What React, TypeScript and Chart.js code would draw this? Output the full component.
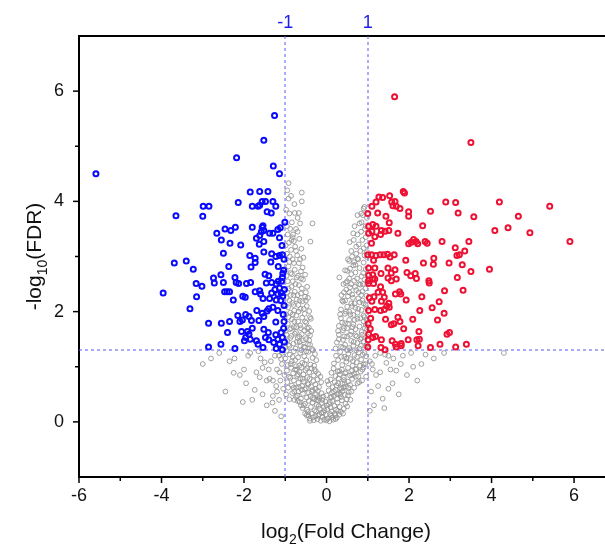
import React, { useEffect, useRef } from "react";
import { Chart, registerables } from "chart.js";

Chart.register(...registerables);

const FONT = "'Liberation Sans', Arial, Helvetica, sans-serif";

// axis ranges and ticks
const xRange = [-6, 6.75];
const yRange = [-1, 7];
const xMajorTicks = [-6, -4, -2, 0, 2, 4, 6];
const xMinorTicks = [-5, -3, -1, 1, 3, 5];
const yMajorTicks = [0, 2, 4, 6];
const yMinorTicks = [1, 3, 5];
const topTicks = [-1, 1];
const foldCutoffs = [-1, 1];
const fdrCutoff = 1.3;

// significantly down-regulated genes: [log2FC, -log10 FDR]
const downGenes: [number, number][] = [
  [-5.59, 4.5], [-1.26, 5.56], [-1.52, 5.11], [-2.18, 4.79], [-1.29, 4.64], [-1.14, 4.5],
  [-1.85, 4.17], [-1.62, 4.18], [-1.42, 4.18], [-2.14, 3.98], [-1.8, 3.91], [-1.66, 3.91], [-1.62, 3.93],
  [-1.56, 4.0], [-1.48, 4.0], [-1.3, 4.0], [-1.23, 3.91], [-1.44, 3.81], [-1.34, 3.79],
  [-2.99, 3.91], [-2.85, 3.91], [-3.0, 3.73], [-3.65, 3.74], [-1.01, 3.62], [-2.66, 3.42], [-2.46, 3.5],
  [-2.32, 3.47], [-2.21, 3.53], [-2.55, 3.3], [-2.34, 3.24], [-2.08, 3.21], [-1.8, 3.53], [-1.56, 3.53],
  [-1.54, 3.56], [-1.58, 3.45], [-1.52, 3.47], [-1.62, 3.38], [-1.7, 3.33], [-1.38, 3.42], [-1.3, 3.42],
  [-1.18, 3.49], [-1.12, 3.52], [-1.14, 3.34], [-1.52, 3.27], [-1.63, 3.22],
  [-2.5, 3.06], [-1.86, 3.02], [-1.73, 2.97], [-1.52, 3.08], [-1.83, 2.81], [-1.73, 2.89], [-1.33, 3.05],
  [-1.23, 3.0], [-1.14, 3.02], [-1.07, 3.03], [-1.35, 2.9], [-1.17, 2.82],
  [-3.69, 2.88], [-3.4, 2.92], [-3.23, 2.77], [-2.37, 2.82], [-2.74, 2.61], [-2.72, 2.52], [-2.56, 2.67],
  [-2.5, 2.53], [-3.16, 2.51], [-3.02, 2.46], [-2.22, 2.62], [-2.19, 2.53], [-2.13, 2.51], [-1.94, 2.51],
  [-1.84, 2.53], [-1.49, 2.68], [-1.4, 2.65], [-1.73, 2.36], [-1.62, 2.38], [-1.54, 2.24], [-1.6, 2.32],
  [-1.46, 2.52], [-1.33, 2.53], [-1.22, 2.5], [-1.17, 2.55], [-1.09, 2.55], [-1.06, 2.69], [-1.07, 2.62],
  [-1.33, 2.34], [-1.25, 2.4], [-1.18, 2.32], [-1.1, 2.34], [-1.14, 2.43], [-1.38, 2.24], [-1.22, 2.21],
  [-1.11, 2.2], [-1.06, 2.28], [-2.47, 2.36], [-2.41, 2.36], [-2.35, 2.36], [-2.03, 2.28], [-1.97, 2.26],
  [-2.26, 2.21], [-3.15, 2.27], [-3.96, 2.34], [-3.31, 2.05],
  [-1.69, 2.02], [-1.56, 1.97], [-1.44, 2.01], [-1.4, 2.05], [-1.3, 2.08], [-1.18, 2.02], [-1.03, 2.11],
  [-2.15, 1.93], [-2.1, 1.82], [-2.04, 1.85], [-1.96, 1.95], [-1.88, 1.91], [-1.82, 1.84], [-2.35, 1.82],
  [-2.55, 1.79], [-2.86, 1.79], [-1.64, 1.84], [-1.52, 1.91], [-1.23, 1.81], [-1.03, 1.82], [-1.8, 1.7],
  [-2.4, 1.62], [-2.06, 1.64], [-1.92, 1.64], [-1.88, 1.59], [-1.96, 1.53], [-1.85, 1.5], [-1.52, 1.68],
  [-1.41, 1.62], [-1.48, 1.53], [-1.4, 1.49], [-1.23, 1.58], [-1.18, 1.5], [-1.1, 1.62], [-1.07, 1.53],
  [-1.14, 1.41], [-1.99, 1.47], [-1.7, 1.47], [-1.66, 1.41], [-1.54, 1.35], [-2.56, 1.41], [-2.86, 1.36],
  [-2.22, 1.33], [-1.22, 1.33], [-1.07, 1.31], [-1.28, 1.44],
  [-1.03, 2.95], [-1.04, 2.75], [-1.02, 2.4], [-1.05, 1.95], [-1.04, 1.7], [-1.02, 1.45], [-1.08, 3.2],
];

// significantly up-regulated genes
const upGenes: [number, number][] = [
  [1.65, 5.9], [3.5, 5.07], [1.86, 4.18], [1.89, 4.15], [1.27, 4.08], [1.36, 4.07], [1.53, 4.1],
  [1.1, 3.91], [1.2, 3.99], [1.58, 3.99], [1.66, 4.0], [1.61, 3.92], [1.69, 3.91], [1.78, 3.87],
  [2.89, 3.99], [3.13, 3.98], [4.19, 3.99], [5.41, 3.91],
  [1.0, 3.78], [1.24, 3.79], [1.44, 3.73], [1.99, 3.81], [1.99, 3.73], [2.52, 3.82], [3.19, 3.79],
  [3.57, 3.72], [4.65, 3.73], [1.52, 3.61], [1.02, 3.55], [1.12, 3.58], [1.2, 3.55], [2.33, 3.56],
  [4.4, 3.52], [4.08, 3.47], [4.93, 3.43],
  [1.02, 3.42], [1.1, 3.46], [1.33, 3.47], [1.42, 3.46], [1.51, 3.47], [1.31, 3.4], [1.17, 3.36],
  [1.73, 3.42], [1.09, 3.24], [1.99, 3.23], [2.05, 3.26], [2.11, 3.31], [2.17, 3.27], [2.21, 3.23],
  [2.39, 3.27], [2.44, 3.24], [2.8, 3.27], [3.12, 3.16], [3.16, 3.02], [3.22, 3.03], [3.35, 3.1],
  [3.45, 3.27], [5.9, 3.27],
  [1.0, 3.03], [1.09, 3.03], [1.2, 3.02], [1.3, 3.03], [1.39, 3.03], [1.48, 3.04], [1.54, 2.99],
  [1.64, 3.03], [1.14, 2.93], [1.92, 2.93], [2.6, 2.97], [2.59, 2.86], [2.35, 2.88], [2.97, 2.88],
  [3.29, 2.85], [3.5, 2.73], [3.95, 2.77],
  [1.02, 2.79], [1.17, 2.79], [1.49, 2.79], [1.66, 2.76], [1.57, 2.7], [1.32, 2.69], [1.02, 2.66],
  [1.12, 2.67], [1.02, 2.56], [1.12, 2.59], [1.02, 2.51], [1.14, 2.51], [1.17, 2.59], [1.49, 2.61],
  [1.57, 2.56], [1.69, 2.59], [1.95, 2.71], [2.04, 2.65], [2.15, 2.69], [2.18, 2.6], [2.48, 2.56],
  [2.49, 2.52], [3.17, 2.62], [1.31, 2.45],
  [1.25, 2.35], [1.36, 2.35], [1.4, 2.26], [1.33, 2.19], [1.04, 2.25], [1.1, 2.19], [1.15, 2.27],
  [1.67, 2.32], [1.77, 2.36], [1.8, 2.32], [1.93, 2.21], [2.31, 2.27], [2.86, 2.38], [3.31, 2.39],
  [2.73, 2.18], [1.51, 2.15], [1.46, 2.1], [1.52, 2.08], [1.4, 2.04], [1.31, 2.02], [1.17, 2.04],
  [1.02, 2.02], [2.26, 2.02], [2.56, 2.07], [2.85, 1.97],
  [1.07, 1.88], [1.43, 1.86], [1.57, 1.76], [1.63, 1.78], [1.73, 1.9], [1.78, 1.82], [1.87, 1.69],
  [2.09, 1.86], [2.69, 1.85], [2.24, 1.64], [2.92, 1.59], [2.98, 1.62],
  [1.01, 1.78], [1.06, 1.69], [1.02, 1.59], [1.12, 1.53], [1.19, 1.55], [1.01, 1.49], [1.33, 1.49],
  [1.59, 1.47], [1.67, 1.41], [1.81, 1.42], [1.98, 1.49], [2.19, 1.49], [2.25, 1.5],
  [1.0, 1.36], [1.32, 1.35], [1.42, 1.31], [1.69, 1.36], [1.81, 1.38], [2.22, 1.38], [2.52, 1.35],
  [2.75, 1.41], [3.13, 1.36], [3.39, 1.41],
];

// non-significant genes
const otherGenes: [number, number][] = [
  [-0.48, 0.12], [-0.41, 0.06], [-0.36, 0.15], [-0.31, 0.03], [-0.27, 0.1], [-0.22, 0.05], [-0.18, 0.14],
  [-0.14, 0.02], [-0.1, 0.09], [-0.06, 0.04], [-0.02, 0.13], [0.03, 0.06], [0.07, 0.01], [0.11, 0.11],
  [0.16, 0.04], [0.2, 0.15], [0.25, 0.08], [0.31, 0.13], [-0.45, 0.18], [-0.25, 0.19], [-0.08, 0.17],
  [0.13, 0.19], [0.35, 0.18],
  [-0.58, 0.25], [-0.52, 0.33], [-0.47, 0.22], [-0.43, 0.38], [-0.38, 0.27], [-0.34, 0.35], [-0.29, 0.21],
  [-0.24, 0.31], [-0.2, 0.39], [-0.16, 0.24], [-0.11, 0.34], [-0.07, 0.27], [-0.03, 0.37], [0.02, 0.23],
  [0.06, 0.32], [0.1, 0.26], [0.14, 0.38], [0.19, 0.29], [0.23, 0.22], [0.27, 0.35], [0.32, 0.27],
  [0.37, 0.39], [0.42, 0.24], [-0.65, 0.36], [0.46, 0.33],
  [-0.74, 0.45], [-0.68, 0.55], [-0.62, 0.42], [-0.57, 0.51], [-0.53, 0.59], [-0.48, 0.44], [-0.43, 0.53],
  [-0.39, 0.47], [-0.34, 0.58], [-0.3, 0.41], [-0.25, 0.5], [-0.21, 0.56], [-0.17, 0.43], [-0.12, 0.52],
  [0.0, 0.48], [0.05, 0.57], [0.09, 0.44], [0.13, 0.53], [0.18, 0.47], [0.22, 0.58], [0.26, 0.42],
  [0.3, 0.51], [0.35, 0.45], [0.39, 0.56], [0.44, 0.49], [0.49, 0.41], [0.54, 0.54], [-0.08, 0.46],
  [-0.84, 0.66], [-0.79, 0.75], [-0.73, 0.62], [-0.68, 0.71], [-0.64, 0.79], [-0.59, 0.65], [-0.55, 0.73],
  [-0.5, 0.61], [-0.46, 0.7], [-0.41, 0.78], [-0.37, 0.64], [-0.32, 0.74], [-0.27, 0.68], [-0.22, 0.77],
  [-0.18, 0.63], [-0.13, 0.72], [0.05, 0.68], [0.1, 0.77], [0.15, 0.63], [0.2, 0.72], [0.24, 0.66],
  [0.29, 0.79], [0.33, 0.61], [0.38, 0.7], [0.42, 0.76], [0.47, 0.64], [0.52, 0.73], [0.57, 0.67],
  [0.62, 0.78], [0.67, 0.62], [-0.95, 0.72], [0.75, 0.7],
  [-1.02, 0.85], [-0.96, 0.93], [-0.91, 0.82], [-0.86, 0.98], [-0.81, 0.88], [-0.76, 0.95], [-0.71, 0.83],
  [-0.66, 0.91], [-0.61, 0.99], [-0.56, 0.86], [-0.51, 0.94], [-0.46, 0.81], [-0.42, 0.9], [-0.37, 0.97],
  [-0.31, 0.84], [-0.26, 0.92], [-0.2, 0.87], [0.12, 0.89], [0.17, 0.97], [0.22, 0.83], [0.27, 0.92],
  [0.32, 0.86], [0.37, 0.95], [0.42, 0.81], [0.47, 0.9], [0.52, 0.98], [0.57, 0.84], [0.62, 0.93],
  [0.67, 0.87], [0.72, 0.96], [0.77, 0.82], [0.83, 0.91], [0.9, 0.99],
  [-1.08, 1.05], [-1.0, 1.15], [-0.94, 1.03], [-0.89, 1.22], [-0.84, 1.1], [-0.79, 1.28], [-0.74, 1.01],
  [-0.69, 1.17], [-0.64, 1.25], [-0.59, 1.07], [-0.54, 1.19], [-0.49, 1.12], [-0.44, 1.27], [-0.39, 1.04],
  [-0.34, 1.16], [-0.28, 1.23], [0.18, 1.06], [0.23, 1.2], [0.28, 1.12], [0.33, 1.27], [0.38, 1.03],
  [0.43, 1.18], [0.48, 1.09], [0.53, 1.24], [0.58, 1.14], [0.63, 1.02], [0.68, 1.21], [0.73, 1.08],
  [0.78, 1.26], [0.84, 1.13], [0.9, 1.04], [0.96, 1.19], [1.05, 1.1], [-1.15, 1.2], [-0.97, 1.29],
  [-1.0, 1.35], [-0.95, 1.48], [-0.9, 1.38], [-0.85, 1.56], [-0.8, 1.42], [-0.75, 1.33], [-0.7, 1.52],
  [-0.65, 1.45], [-0.6, 1.59], [-0.55, 1.36], [-0.5, 1.5], [-0.45, 1.41], [-0.4, 1.57], [-0.35, 1.32],
  [0.25, 1.44], [0.3, 1.58], [0.35, 1.36], [0.4, 1.49], [0.45, 1.4], [0.5, 1.55], [0.55, 1.34],
  [0.6, 1.47], [0.65, 1.38], [0.7, 1.57], [0.75, 1.43], [0.8, 1.33], [0.85, 1.52], [0.9, 1.46],
  [0.95, 1.37], [0.99, 1.55],
  [-0.99, 1.65], [-0.94, 1.78], [-0.89, 1.68], [-0.84, 1.86], [-0.79, 1.72], [-0.74, 1.63], [-0.69, 1.82],
  [-0.64, 1.75], [-0.59, 1.89], [-0.54, 1.66], [-0.49, 1.8], [-0.43, 1.71], [-0.38, 1.87], [0.3, 1.74],
  [0.35, 1.88], [0.4, 1.66], [0.45, 1.79], [0.5, 1.7], [0.55, 1.85], [0.6, 1.64], [0.65, 1.77],
  [0.7, 1.68], [0.75, 1.87], [0.8, 1.73], [0.85, 1.63], [0.9, 1.82], [0.95, 1.76], [0.98, 1.67],
  [-0.98, 1.95], [-0.93, 2.08], [-0.88, 1.98], [-0.83, 2.16], [-0.78, 2.02], [-0.73, 1.93], [-0.68, 2.12],
  [-0.63, 2.05], [-0.58, 2.19], [-0.53, 1.96], [-0.48, 2.1], [-0.42, 2.01], [0.35, 2.04], [0.4, 2.18],
  [0.45, 1.96], [0.5, 2.09], [0.55, 2.0], [0.6, 2.15], [0.65, 1.94], [0.7, 2.07], [0.75, 1.98],
  [0.8, 2.17], [0.85, 2.03], [0.9, 1.93], [0.95, 2.12], [0.98, 2.06],
  [-0.97, 2.25], [-0.92, 2.42], [-0.87, 2.3], [-0.82, 2.55], [-0.77, 2.36], [-0.72, 2.22], [-0.67, 2.48],
  [-0.62, 2.33], [-0.57, 2.58], [-0.52, 2.27], [-0.47, 2.45], [0.42, 2.35], [0.47, 2.52], [0.52, 2.28],
  [0.57, 2.44], [0.62, 2.31], [0.67, 2.56], [0.72, 2.39], [0.77, 2.24], [0.82, 2.49], [0.87, 2.37],
  [0.92, 2.58], [0.97, 2.29],
  [-0.97, 2.65], [-0.92, 2.82], [-0.87, 2.7], [-0.82, 2.95], [-0.77, 2.76], [-0.72, 2.62], [-0.67, 2.88],
  [-0.62, 2.73], [-0.56, 2.98], [-0.52, 2.67], [0.5, 2.74], [0.55, 2.92], [0.6, 2.68], [0.65, 2.84],
  [0.7, 2.71], [0.75, 2.96], [0.8, 2.79], [0.85, 2.64], [0.9, 2.89], [0.95, 2.77], [0.98, 2.99],
  [-0.96, 3.05], [-0.91, 3.25], [-0.86, 3.12], [-0.81, 3.4], [-0.76, 3.18], [-0.71, 3.02], [-0.66, 3.32],
  [-0.61, 3.14], [0.6, 3.1], [0.66, 3.3], [0.72, 3.05], [0.78, 3.22], [0.84, 3.45], [0.9, 3.15],
  [0.95, 3.35], [0.98, 3.08],
  [-0.96, 3.55], [-0.9, 3.78], [-0.84, 3.62], [-0.78, 3.95], [-0.92, 4.05], [-0.92, 4.33], [-0.6, 4.16],
  [-0.7, 3.7], [0.8, 3.6], [0.88, 3.75], [0.95, 3.55], [0.92, 3.9],
  [-0.55, 0.3], [-0.44, 0.12], [-0.33, 0.44], [-0.19, 0.29], [-0.05, 0.21], [0.08, 0.36], [0.21, 0.12],
  [0.34, 0.5], [0.41, 0.62], [-0.6, 0.58], [-0.71, 0.48], [-0.8, 0.62], [-0.88, 0.8], [-0.69, 0.86],
  [-0.47, 0.97], [-0.26, 0.6], [-0.15, 0.82], [0.02, 0.74], [0.18, 0.55], [0.28, 0.7], [0.45, 0.88],
  [0.6, 0.55], [0.71, 0.82], [0.81, 1.02], [0.86, 0.75], [0.64, 1.1], [0.5, 1.3], [0.36, 1.18],
  [0.22, 1.33], [-0.3, 1.02], [-0.52, 1.35], [-0.66, 1.02], [-0.82, 1.18], [-0.93, 1.4], [-0.77, 1.6],
  [-0.61, 1.3], [-0.45, 1.6], [-0.4, 1.9], [0.3, 1.5], [0.42, 1.7], [0.57, 1.58], [0.68, 1.85],
  [0.82, 1.5], [0.93, 1.7], [0.72, 1.3], [0.88, 1.22], [-0.72, 1.45], [-0.86, 1.7], [-0.68, 2.0],
  [-0.5, 2.2], [0.38, 2.2], [0.48, 2.4], [0.62, 2.1], [0.78, 2.35], [0.9, 2.15], [-0.8, 2.3],
  [-0.62, 2.6], [-0.9, 2.9], [0.55, 2.6], [0.7, 2.85], [0.88, 2.5], [-0.74, 3.5], [-0.85, 3.3],
  [0.68, 3.55], [0.75, 3.75], [-0.39, 3.27], [-0.82, 3.35], [-0.34, 3.6], [0.56, 3.26], [0.31, 2.62],
  [-0.77, 3.79], [-0.67, 3.79], [0.84, 3.78], [0.9, 3.87], [-0.6, 4.0],
  [-0.98, 0.5], [-0.93, 0.62], [-0.9, 0.41], [-0.87, 1.05], [-0.83, 0.52], [-0.78, 0.4], [-0.76, 1.12],
  [-0.72, 0.95], [-0.67, 0.63], [-0.63, 1.38], [-0.58, 0.78], [-0.53, 1.05], [-0.49, 1.28], [-0.44, 0.68],
  [-0.4, 1.4], [-0.36, 0.55], [-0.33, 1.3], [-0.29, 0.95], [-0.25, 1.12], [-0.23, 0.4],
  [-0.97, 1.58], [-0.92, 1.9], [-0.88, 1.52], [-0.82, 1.95], [-0.78, 1.82], [-0.73, 1.72], [-0.66, 1.55],
  [-0.62, 1.7], [-0.57, 1.48], [-0.52, 1.82], [-0.47, 1.7], [-0.42, 1.48], [-0.37, 1.65],
  [-0.99, 2.1], [-0.95, 2.35], [-0.9, 2.2], [-0.85, 2.45], [-0.8, 2.12], [-0.75, 2.5], [-0.7, 2.3],
  [-0.65, 2.2], [-0.6, 2.42], [-0.55, 2.05], [-0.5, 2.35], [-0.45, 2.25],
  [-0.99, 2.75], [-0.94, 2.55], [-0.89, 3.0], [-0.84, 2.68], [-0.79, 2.88], [-0.74, 3.1], [-0.69, 2.65],
  [-0.64, 2.95], [-0.58, 2.8], [-0.99, 3.2], [-0.94, 3.4], [-0.88, 3.5], [-0.79, 3.28], [-0.7, 3.45],
  [-0.64, 3.6], [-0.98, 3.85], [-0.86, 4.1], [-0.95, 4.2],
  [0.26, 0.5], [0.31, 0.92], [0.36, 0.6], [0.4, 1.35], [0.44, 0.7], [0.49, 1.15], [0.53, 0.62],
  [0.58, 1.3], [0.62, 0.85], [0.66, 1.45], [0.7, 0.95], [0.74, 1.18], [0.79, 0.72], [0.83, 1.38],
  [0.87, 0.95], [0.92, 1.25], [0.96, 0.82], [0.98, 1.4], [0.94, 1.05], [0.86, 1.58],
  [0.28, 1.65], [0.33, 1.95], [0.38, 1.8], [0.43, 1.55], [0.47, 2.0], [0.52, 1.78], [0.58, 1.95],
  [0.63, 1.72], [0.68, 2.15], [0.73, 1.55], [0.77, 2.05], [0.82, 1.88], [0.87, 2.2], [0.92, 1.9],
  [0.97, 1.85], [0.36, 2.3], [0.41, 2.5], [0.45, 2.2], [0.5, 2.55], [0.55, 2.35], [0.6, 2.5],
  [0.64, 2.25], [0.69, 2.45], [0.74, 2.6], [0.79, 2.5], [0.84, 2.3], [0.89, 2.7], [0.94, 2.42],
  [0.99, 2.55], [0.45, 2.75], [0.52, 2.95], [0.57, 2.78], [0.62, 3.0], [0.67, 2.9], [0.72, 3.18],
  [0.77, 2.95], [0.82, 3.1], [0.87, 3.3], [0.92, 3.02], [0.97, 3.2], [0.65, 3.42], [0.75, 3.4],
  [0.85, 3.62], [0.93, 3.5], [0.98, 3.7],
  [-0.4, 0.02], [-0.33, 0.08], [-0.2, 0.11], [-0.12, 0.16], [0.0, 0.03], [0.09, 0.14], [0.14, 0.08],
  [0.22, 0.05], [0.28, 0.2], [-0.52, 0.15], [-0.62, 0.3], [-0.7, 0.38], [0.4, 0.15], [0.5, 0.28],
  [0.58, 0.4], [0.52, 0.48], [-0.78, 0.55], [-0.1, 0.4], [0.0, 0.3], [0.12, 0.45], [-0.22, 0.45],
  [-2.23, 1.15], [-2.1, 0.85], [-2.03, 0.36], [-1.74, 0.58], [-1.55, 0.98], [-1.31, 0.35], [-2.25, 0.89],
  [-1.9, 1.2], [-1.45, 0.75], [-1.2, 0.55], [-1.35, 1.1], [-2.6, 1.25], [-1.65, 1.28], [-1.25, 0.2],
  [-1.5, 1.08], [-1.38, 0.78], [-1.3, 0.47], [-1.22, 0.65], [-1.14, 0.9], [-1.1, 1.14], [-1.62, 0.81],
  [-2.45, 0.55], [-2.35, 1.1], [-2.0, 0.95], [-1.95, 0.7], [-1.85, 1.25], [-1.8, 0.4], [-1.7, 0.9],
  [-1.6, 1.15], [-1.55, 0.5], [-1.45, 0.3], [-1.4, 0.95], [-1.3, 0.75], [-1.25, 1.2], [-1.2, 0.95],
  [-1.15, 0.4], [-1.12, 0.75], [-1.08, 1.25], [-1.05, 0.6], [-2.8, 1.15], [-3.0, 1.05],
  [1.45, 1.07], [1.6, 0.7], [1.69, 0.93], [1.36, 0.42], [1.2, 0.85], [1.3, 1.25], [1.85, 1.2],
  [2.1, 1.0], [1.15, 0.3], [2.4, 1.22], [4.3, 1.25], [1.5, 1.2], [-1.1, 0.1],
  [1.08, 0.55], [1.12, 0.95], [1.18, 1.2], [1.25, 0.65], [1.3, 0.9], [1.4, 0.25], [1.42, 1.22],
  [1.55, 0.95], [1.62, 1.15], [1.75, 0.5], [1.8, 1.05], [1.95, 0.85], [2.05, 1.25], [2.2, 0.75],
  [2.3, 1.05], [2.6, 1.15], [1.05, 0.2], [1.1, 1.05], [2.85, 1.25], [1.5, 0.6],
];

const toPoints = (arr: [number, number][]) => arr.map(([x, y]) => ({ x, y }));

function drawRich(ctx: CanvasRenderingContext2D, parts: { t: string; sub?: boolean }[], cx: number, baseline: number) {
  const main = `21px ${FONT}`;
  const small = `14px ${FONT}`;
  let total = 0;
  const widths = parts.map((p) => {
    ctx.font = p.sub ? small : main;
    const w = ctx.measureText(p.t).width;
    total += w;
    return w;
  });
  let x = cx - total / 2;
  ctx.textAlign = "left";
  ctx.textBaseline = "alphabetic";
  parts.forEach((p, i) => {
    ctx.font = p.sub ? small : main;
    ctx.fillText(p.t, x, baseline + (p.sub ? 6 : 0));
    x += widths[i];
  });
}

const decorPlugin = {
  id: "decor",
  beforeDatasetsDraw(chart: any) {
    const { ctx, chartArea: a, scales } = chart;
    const xs = scales.x;
    const ys = scales.y;
    ctx.save();
    ctx.strokeStyle = "rgb(90,90,255)";
    ctx.lineWidth = 1;
    ctx.setLineDash([3, 3]);
    foldCutoffs.forEach((v) => {
      const px = Math.round(xs.getPixelForValue(v));
      ctx.beginPath();
      ctx.moveTo(px, a.top);
      ctx.lineTo(px, a.bottom);
      ctx.stroke();
    });
    const py = Math.round(ys.getPixelForValue(fdrCutoff));
    ctx.beginPath();
    ctx.moveTo(a.left, py);
    ctx.lineTo(a.right, py);
    ctx.stroke();
    ctx.restore();
  },
  afterDraw(chart: any) {
    const { ctx, chartArea: a, scales } = chart;
    const xs = scales.x;
    const ys = scales.y;
    ctx.save();
    ctx.strokeStyle = "#000";
    ctx.lineWidth = 1.5;
    const xTick = (v: number, len: number) => {
      const px = xs.getPixelForValue(v);
      ctx.beginPath();
      ctx.moveTo(px, a.bottom);
      ctx.lineTo(px, a.bottom + len);
      ctx.stroke();
    };
    const yTick = (v: number, len: number) => {
      const py = ys.getPixelForValue(v);
      ctx.beginPath();
      ctx.moveTo(a.left, py);
      ctx.lineTo(a.left - len, py);
      ctx.stroke();
    };
    xMajorTicks.forEach((v) => xTick(v, 6));
    xMinorTicks.forEach((v) => xTick(v, 4));
    yMajorTicks.forEach((v) => yTick(v, 6));
    yMinorTicks.forEach((v) => yTick(v, 4));

    ctx.fillStyle = "#111";
    drawRich(
      ctx,
      [{ t: "log" }, { t: "2", sub: true }, { t: "(Fold Change)" }],
      (a.left + a.right) / 2 + 4,
      538
    );
    ctx.save();
    ctx.translate(41, (a.top + a.bottom) / 2);
    ctx.rotate(-Math.PI / 2);
    drawRich(ctx, [{ t: "-log" }, { t: "10", sub: true }, { t: "(FDR)" }], 0, 0);
    ctx.restore();
    ctx.restore();
  },
};

export default function App() {
  const canvasRef = useRef<HTMLCanvasElement | null>(null);

  useEffect(() => {
    const canvas = canvasRef.current;
    if (!canvas) return;
    const hidden = "rgba(0,0,0,0)";
    const chart = new Chart(canvas, {
      type: "scatter",
      data: {
        datasets: [
          {
            label: "not significant",
            data: toPoints(otherGenes),
            pointRadius: 2.4,
            pointBorderWidth: 0.9,
            borderColor: "#959595",
            backgroundColor: "rgba(255,255,255,0)",
            order: 3,
          },
          {
            label: "down",
            data: toPoints(downGenes),
            pointRadius: 2.5,
            pointBorderWidth: 2,
            borderColor: "#0a0aff",
            backgroundColor: "rgba(255,255,255,0)",
            order: 1,
          },
          {
            label: "up",
            data: toPoints(upGenes),
            pointRadius: 2.5,
            pointBorderWidth: 2,
            borderColor: "#ee1133",
            backgroundColor: "rgba(255,255,255,0)",
            order: 1,
          },
        ],
      },
      options: {
        animation: false,
        responsive: false,
        devicePixelRatio: 1,
        layout: { autoPadding: false, padding: 0 },
        plugins: { legend: { display: false }, tooltip: { enabled: false } },
        scales: {
          x: {
            type: "linear",
            position: "bottom",
            min: xRange[0],
            max: xRange[1],
            afterBuildTicks: (s: any) => {
              s.ticks = xMajorTicks.map((v) => ({ value: v }));
            },
            afterFit: (s: any) => {
              s.height = 70;
            },
            grid: { display: true, drawOnChartArea: false, drawTicks: true, tickLength: 6, color: hidden },
            border: { display: true, color: "#000", width: 2 },
            ticks: {
              color: "#111",
              font: { family: FONT, size: 18 },
              padding: 2,
              maxRotation: 0,
              autoSkip: false,
              callback: (v: any) => String(v),
            },
          },
          xTop: {
            type: "linear",
            position: "top",
            min: xRange[0],
            max: xRange[1],
            afterBuildTicks: (s: any) => {
              s.ticks = topTicks.map((v) => ({ value: v }));
            },
            afterFit: (s: any) => {
              s.height = 36;
            },
            grid: { display: false, drawTicks: false },
            border: { display: true, color: "#000", width: 2 },
            ticks: {
              color: "#2020ee",
              font: { family: FONT, size: 18 },
              padding: 2,
              maxRotation: 0,
              autoSkip: false,
              callback: (v: any) => String(v),
            },
          },
          y: {
            type: "linear",
            position: "left",
            min: yRange[0],
            max: yRange[1],
            afterBuildTicks: (s: any) => {
              s.ticks = yMajorTicks.map((v) => ({ value: v }));
            },
            afterFit: (s: any) => {
              s.width = 79;
            },
            grid: { display: true, drawOnChartArea: false, drawTicks: true, tickLength: 6, color: hidden },
            border: { display: true, color: "#000", width: 2 },
            ticks: {
              color: "#111",
              font: { family: FONT, size: 18 },
              padding: 9,
              autoSkip: false,
              callback: (v: any) => String(v),
            },
          },
        },
      },
      plugins: [decorPlugin],
    });
    return () => chart.destroy();
  }, []);

  return (
    <canvas
      ref={canvasRef}
      width={605}
      height={547}
      style={{ position: "absolute", left: 0, top: 0, width: 605, height: 547, display: "block" }}
    />
  );
}
